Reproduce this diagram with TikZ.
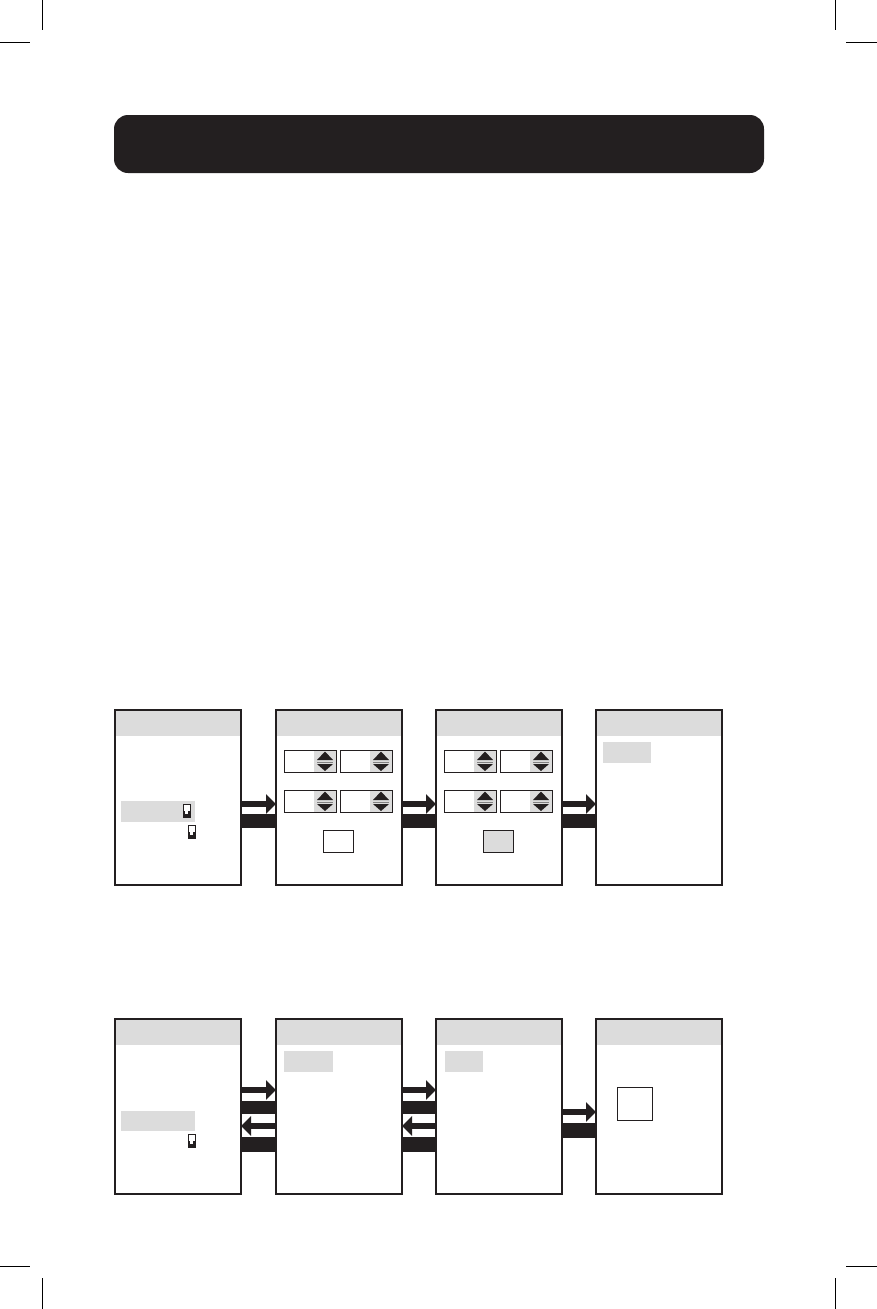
\documentclass[tikz,border=0pt]{standalone}
\usepackage{tikz}
\usetikzlibrary{calc}
\usetikzlibrary{shapes}
\usetikzlibrary{arrows.meta}
\definecolor{ink}{HTML}{231F20}
\definecolor{screengrey}{HTML}{DCDCDC}
\tikzset{
    crop/.style={line width=0.8pt, black},
    titlebar/.style={fill=ink, rounded corners=14pt, minimum width=650pt, minimum height=58pt, inner sep=0pt},
    panel/.style={draw=ink, line width=1.3pt, minimum width=126pt, minimum height=175pt, anchor=north west, inner sep=0pt, outer sep=0pt,
        path picture={\fill[screengrey] (path picture bounding box.north west) rectangle ([yshift=-26pt]path picture bounding box.north east);}},
    spin/.style={draw=ink, line width=0.9pt, minimum width=52pt, minimum height=22pt, anchor=north west, inner sep=0pt, outer sep=0pt,
        path picture={
            \fill[screengrey] ([xshift=-22pt]path picture bounding box.north east) rectangle (path picture bounding box.south east);
            \draw[gray, line width=0.6pt] ([shift={(-19pt,-12pt)}]path picture bounding box.north east) -- ([shift={(-3pt,-12pt)}]path picture bounding box.north east);
            \fill[ink] ([shift={(-19pt,-10pt)}]path picture bounding box.north east) -- ([shift={(-3pt,-10pt)}]path picture bounding box.north east) -- ([shift={(-11pt,-1.5pt)}]path picture bounding box.north east) -- cycle;
            \fill[ink] ([shift={(-19pt,-14pt)}]path picture bounding box.north east) -- ([shift={(-3pt,-14pt)}]path picture bounding box.north east) -- ([shift={(-11pt,-21pt)}]path picture bounding box.north east) -- cycle;}},
    btn/.style={draw=ink, fill=white, line width=0.9pt, minimum width=30pt, minimum height=22pt, anchor=north west, inner sep=0pt, outer sep=0pt},
    pick/.style={fill=screengrey, minimum height=21pt, anchor=north west, inner sep=0pt, outer sep=0pt},
    switch/.style={draw=ink, fill=white, line width=0.9pt, minimum width=7pt, minimum height=13pt, anchor=north west, inner sep=0pt, outer sep=0pt},
    fwd/.style={draw=ink, line width=6pt, -{Triangle[length=10pt, width=19pt]}}
}
\begin{document}
\begin{tikzpicture}[x=1pt, y=-1pt]
        \newcommand*\switchicon[2]{
            \node[switch] (#1) at (#2) {};
            \fill[ink] (#1.west) rectangle (#1.south east);
            \fill[white] ($(#1.south)+(-1.3,-5.7)$) rectangle ($(#1.south)+(1.3,-3)$);}
        \useasboundingbox (0,0) rectangle (877,1309);
        \foreach \x/\y/\u/\v in {42/0/42/30, 0/42/30/42, 835/0/835/30, 846/42/877/42, 0/1266/30/1266, 846/1266/877/1266, 42/1278/42/1309, 835/1278/835/1309}
            \draw[crop] (\x,\y) -- (\u,\v);
        \node[titlebar] (title) at (439,144) {};
        \foreach \i/\x in {1/115, 2/276, 3/436, 4/596} {
            \node[panel] (a\i) at (\x,710) {};
            \node[panel] (b\i) at (\x,1019) {};}
        \foreach \p in {a2, a3}
            \foreach \dx/\dy [count=\k] in {8/40, 64/40, 8/80, 64/80}
                \node[spin] (\p s\k) at ($(\p.north west)+(\dx,\dy)$) {};
        \node[btn] (a2ok) at ($(a2.north west)+(47,120)$) {};
        \node[btn, fill=screengrey] (a3ok) at ($(a3.north west)+(47,120)$) {};
        \node[pick, minimum width=74pt] (a1sel) at ($(a1.north west)+(6,91)$) {};
        \node[pick, minimum width=48pt] (a4sel) at ($(a4.north west)+(7,32)$) {};
        \node[pick, minimum width=74pt, minimum height=20pt] (b1sel) at ($(b1.north west)+(6,92)$) {};
        \node[pick, minimum width=49pt] (b2sel) at ($(b2.north west)+(8,32)$) {};
        \node[pick, minimum width=38pt] (b3sel) at ($(b3.north west)+(9,32)$) {};
        \node[btn, minimum width=35pt, minimum height=33pt] (b4box) at ($(b4.north west)+(21,68)$) {};
        \switchicon{a1sw}{$(a1.north west)+(68,94)$}
        \switchicon{a1swb}{$(a1.north west)+(73,115)$}
        \switchicon{b1sw}{$(b1.north west)+(73,115)$}
        \foreach \i/\j in {1/2, 2/3, 3/4} {
            \draw[fwd] ([yshift=-94pt]a\i.north east) -- ([yshift=-94pt]a\j.north west);
            \fill[ink] ([yshift=-104pt]a\i.north east) rectangle ([yshift=-118pt]a\j.north west);}
        \foreach \i/\j in {1/2, 2/3} {
            \draw[fwd] ([yshift=-71pt]b\i.north east) -- ([yshift=-71pt]b\j.north west);
            \fill[ink] ([yshift=-82pt]b\i.north east) rectangle ([yshift=-95pt]b\j.north west);
            \draw[fwd] ([yshift=-107pt]b\j.north west) -- ([yshift=-107pt]b\i.north east);
            \fill[ink] ([yshift=-118pt]b\i.north east) rectangle ([yshift=-133pt]b\j.north west);}
        \draw[fwd] ([yshift=-93pt]b3.north east) -- ([yshift=-93pt]b4.north west);
        \fill[ink] ([yshift=-104pt]b3.north east) rectangle ([yshift=-119pt]b4.north west);
\end{tikzpicture}
\end{document}
